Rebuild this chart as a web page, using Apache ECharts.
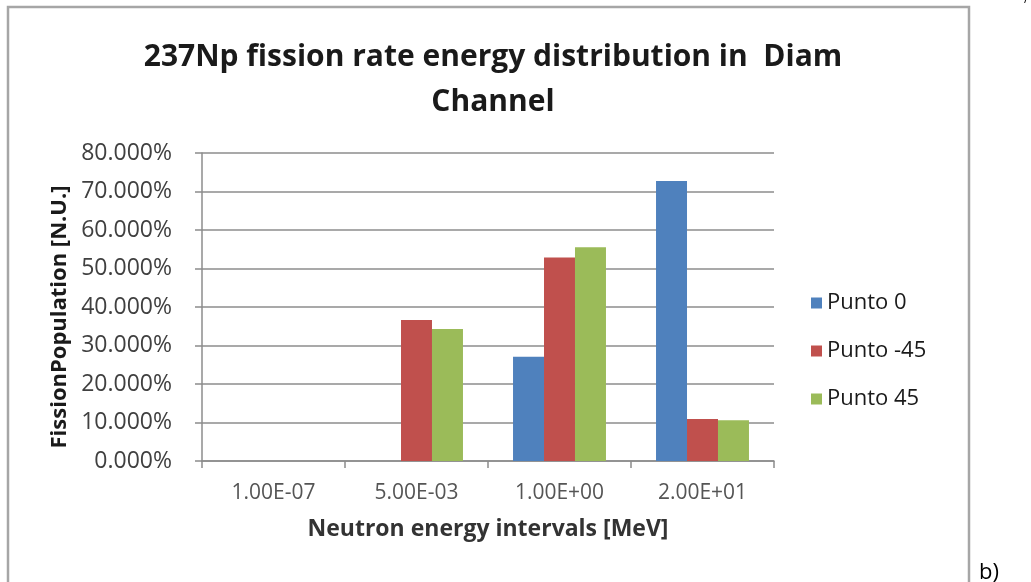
<!DOCTYPE html>
<html>
<head>
<meta charset="utf-8">
<script src="https://cdn.jsdelivr.net/npm/echarts@6/dist/echarts.min.js"></script>
<style>
  html, body { margin: 0; padding: 0; background: #fff; }
  #chart { width: 1031px; height: 582px; }
</style>
</head>
<body>
<div id="chart"></div>
<script>
// data
let categories = ['1.00E-07', '5.00E-03', '1.00E+00', '2.00E+01'];
let seriesNames = ['Punto 0', 'Punto -45', 'Punto 45'];
let punto0 = [0, 0, 0.2707, 0.7271];
let puntoM45 = [0, 0.3661, 0.5284, 0.1093];
let punto45 = [0, 0.3427, 0.5553, 0.1059];

let colors = ['#4F81BD', '#C0504D', '#9BBB59'];
let gridGrey = '#8c8c8c';

let myChart = echarts.init(document.getElementById('chart'));

let barSeries = [punto0, puntoM45, punto45].map((vals, i) => {
    return {
        name: seriesNames[i],
        type: 'bar',
        data: vals,
        barGap: '0%',
        barCategoryGap: '35%',
        itemStyle: { color: colors[i] }
    };
});

let option = {
    animation: false,
    color: colors,
    title: {
        text: '237Np fission rate energy distribution in  Diam\nChannel',
        left: 488,
        textAlign: 'center',
        top: 30,
        textStyle: {
            fontFamily: 'Open Sans',
            fontWeight: 'bold',
            fontSize: 30,
            lineHeight: 45,
            color: '#1a1a1a'
        }
    },
    legend: {
        orient: 'vertical',
        left: 806,
        top: 286,
        icon: 'rect',
        itemWidth: 11,
        itemHeight: 11,
        itemGap: 24,
        textStyle: {
            fontFamily: 'Open Sans',
            fontSize: 22,
            lineHeight: 24,
            color: '#1a1a1a'
        },
        data: seriesNames
    },
    grid: {
        left: 202,
        top: 153,
        right: 257,
        bottom: 121,
        containLabel: false
    },
    xAxis: {
        type: 'category',
        data: categories,
        name: 'Neutron energy intervals [MeV]',
        nameLocation: 'middle',
        nameGap: 57,
        nameTextStyle: {
            fontFamily: 'Open Sans',
            fontWeight: 'bold',
            fontSize: 23,
            color: '#333'
        },
        axisLine: { lineStyle: { color: gridGrey, width: 1.5 } },
        axisTick: { show: true, length: 7, lineStyle: { color: gridGrey, width: 1.5 } },
        axisLabel: {
            margin: 22,
            fontFamily: 'Open Sans',
            fontSize: 21,
            color: '#555'
        }
    },
    yAxis: {
        type: 'value',
        min: 0,
        max: 0.8,
        interval: 0.1,
        name: 'FissionPopulation [N.U.]',
        nameLocation: 'middle',
        nameRotate: 90,
        nameGap: 128,
        nameTextStyle: {
            fontFamily: 'Open Sans',
            fontWeight: 'bold',
            fontSize: 22,
            color: '#1a1a1a',
            padding: [0, 20, 0, 0]
        },
        axisLine: { show: true, lineStyle: { color: gridGrey, width: 1.5 } },
        axisTick: { show: true, length: 7, lineStyle: { color: gridGrey, width: 1.5 } },
        splitLine: { show: true, lineStyle: { color: gridGrey, width: 1.5 } },
        axisLabel: {
            margin: 30,
            fontFamily: 'Open Sans',
            fontSize: 23,
            color: '#404040',
            formatter: (v) => (v * 100).toFixed(3) + '%'
        }
    },
    series: barSeries,
    graphic: [
        {
            // chart frame
            type: 'rect',
            shape: { x: 8, y: 7, width: 961, height: 600 },
            style: { fill: 'none', stroke: '#a6a6a6', lineWidth: 2.5 },
            silent: true
        },
        {
            type: 'text',
            left: 979,
            top: 562,
            style: { text: 'b)', font: '22px "Open Sans"', fill: '#000' }
        },
        {
            type: 'text',
            left: 1024,
            top: -6,
            style: { text: '/', font: '12px "Open Sans"', fill: '#000' }
        }
    ]
};
myChart.setOption(option);
</script>
</body>
</html>
